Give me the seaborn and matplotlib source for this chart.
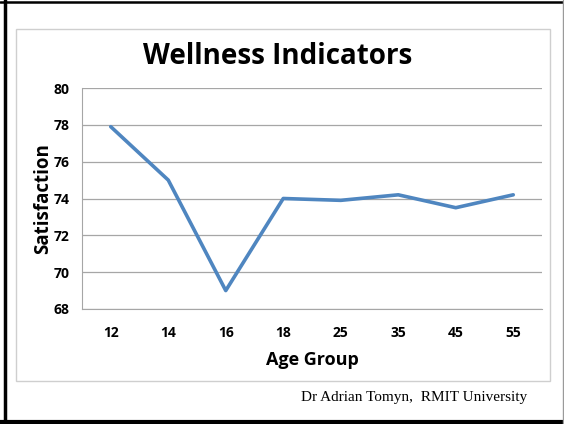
import matplotlib
matplotlib.use("Agg")
import matplotlib.pyplot as plt
import seaborn as sns
import pandas as pd
from matplotlib.lines import Line2D
from matplotlib.patches import Rectangle

# Data
age_groups = ["12", "14", "16", "18", "25", "35", "45", "55"]
satisfaction = [77.9, 75.0, 69.0, 74.0, 73.9, 74.2, 73.5, 74.2]

df = pd.DataFrame({"Age Group": age_groups, "Satisfaction": satisfaction})

sns.set_style("white")
plt.rcParams["font.family"] = ["Open Sans", "DejaVu Sans"]
plt.rcParams["text.color"] = "black"
plt.rcParams["axes.labelcolor"] = "black"
plt.rcParams["xtick.color"] = "black"
plt.rcParams["ytick.color"] = "black"

W, H = 564, 424
fig = plt.figure(figsize=(W / 100, H / 100), dpi=100)

def px(x0, y0, x1, y1):
    # pixel box (top-left origin) -> figure fraction rect
    return [x0 / W, 1 - y1 / H, (x1 - x0) / W, (y1 - y0) / H]

# outer border of the slide
fig.add_artist(Line2D([4.5 / W, 4.5 / W], [0, 1], color="black", lw=2.5, transform=fig.transFigure))
fig.add_artist(Line2D([0, 1], [1 - 2 / H, 1 - 2 / H], color="black", lw=1.8, transform=fig.transFigure))
fig.add_artist(Line2D([0, 1], [2.5 / H, 2.5 / H], color="black", lw=3.0, transform=fig.transFigure))
fig.add_artist(Line2D([562.5 / W, 562.5 / W], [0, 1], color="#9a9a9a", lw=1.0, transform=fig.transFigure))

# chart area frame
r = px(16, 29, 550, 381)
fig.add_artist(Rectangle((r[0], r[1]), r[2], r[3], transform=fig.transFigure,
                         fill=False, edgecolor="#cfcfcf", lw=1.0))

ax = fig.add_axes(px(82, 88, 542, 309))
sns.lineplot(data=df, x="Age Group", y="Satisfaction", sort=False,
             color="#4f86c0", linewidth=2.6, ax=ax)

ax.set_xlim(-0.5, len(age_groups) - 0.5)
ax.set_ylim(68, 80)
ax.set_yticks(range(68, 81, 2))
ax.set_xticks([i - 0.5 for i in range(len(age_groups) + 1)], minor=False)
ax.set_xticklabels([])
ax.set_xticks(range(len(age_groups)), minor=True)
ax.set_xticklabels(age_groups, minor=True)
ax.tick_params(axis="x", which="major", length=4, color="#9a9a9a", width=0.8, direction="out")
ax.tick_params(axis="x", which="minor", length=0, pad=12, labelsize=10)
ax.tick_params(axis="y", length=4, color="#9a9a9a", width=0.8, labelsize=10, pad=5)
for lab in ax.get_xticklabels(minor=True) + ax.get_yticklabels():
    lab.set_fontweight("bold")

ax.grid(axis="y", color="#a6a6a6", lw=0.9)
ax.set_axisbelow(True)
for s in ["top", "right"]:
    ax.spines[s].set_visible(False)
ax.spines["left"].set_color("#a6a6a6")
ax.spines["bottom"].set_color("#a6a6a6")

ax.set_xlabel("Age Group", fontsize=13, fontweight="bold", labelpad=8)
ax.set_ylabel("Satisfaction", fontsize=13.5, fontweight="bold", labelpad=0)

fig.text(278 / W, 1 - 57 / H, "Wellness Indicators", fontsize=20, fontweight="bold",
         ha="center", va="center")
fig.text(527 / W, 1 - 397 / H, "Dr Adrian Tomyn,  RMIT University",
         fontsize=11, family="Liberation Serif", ha="right", va="center")

fig.savefig("out.png", dpi=100)
